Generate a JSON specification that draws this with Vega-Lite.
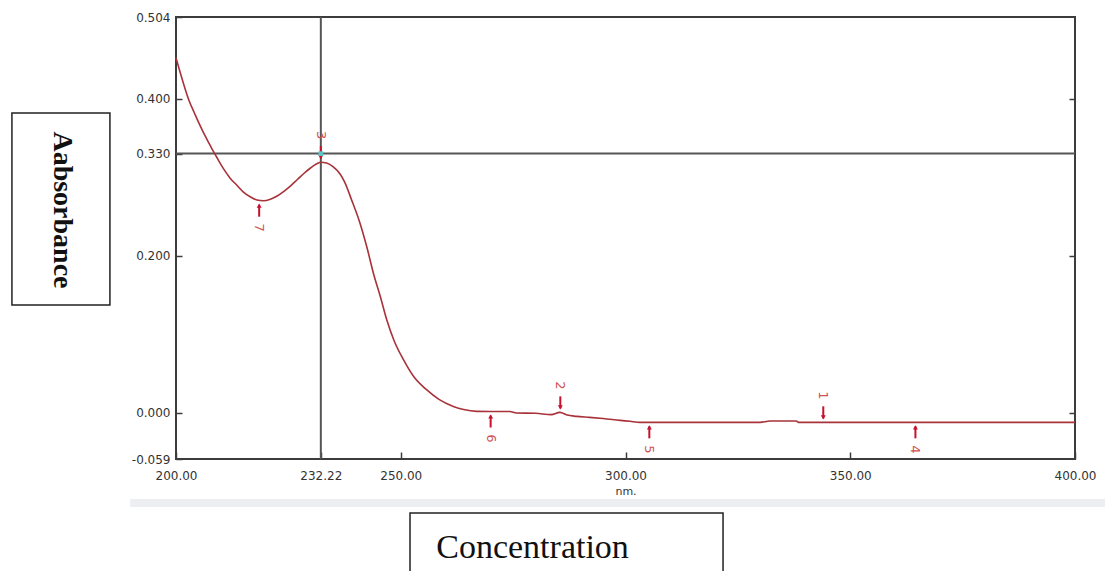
{
  "$schema": "https://vega.github.io/schema/vega-lite/v6.json",
  "width": 899,
  "height": 442,
  "autosize": "none",
  "padding": {"left": 176, "top": 17, "right": 30, "bottom": 112},
  "background": "white",
  "config": {
    "view": {"stroke": "#3c3c3c", "strokeWidth": 2},
    "axis": {
      "labelFont": "DejaVu Sans",
      "labelFontSize": 12,
      "labelColor": "#333333",
      "grid": false,
      "domain": false,
      "tickColor": "#3c3c3c",
      "tickWidth": 1.5
    }
  },
  "datasets": {
    "spectrum": [
      {"wl": 200.0, "abs": 0.452}, {"wl": 201.0, "abs": 0.432}, {"wl": 202.0, "abs": 0.413},
      {"wl": 203.0, "abs": 0.396}, {"wl": 204.0, "abs": 0.383}, {"wl": 205.0, "abs": 0.370},
      {"wl": 206.0, "abs": 0.358}, {"wl": 207.0, "abs": 0.347}, {"wl": 208.0, "abs": 0.336},
      {"wl": 209.0, "abs": 0.326}, {"wl": 210.0, "abs": 0.316}, {"wl": 211.0, "abs": 0.307},
      {"wl": 212.0, "abs": 0.299}, {"wl": 213.5, "abs": 0.290}, {"wl": 215.0, "abs": 0.281},
      {"wl": 216.5, "abs": 0.275}, {"wl": 218.0, "abs": 0.271}, {"wl": 219.5, "abs": 0.270},
      {"wl": 221.0, "abs": 0.272}, {"wl": 222.5, "abs": 0.276}, {"wl": 224.0, "abs": 0.282},
      {"wl": 225.5, "abs": 0.289}, {"wl": 227.0, "abs": 0.297}, {"wl": 228.5, "abs": 0.305},
      {"wl": 230.0, "abs": 0.312}, {"wl": 231.0, "abs": 0.316}, {"wl": 232.2, "abs": 0.319},
      {"wl": 233.5, "abs": 0.318}, {"wl": 235.0, "abs": 0.313}, {"wl": 236.5, "abs": 0.304},
      {"wl": 237.5, "abs": 0.294}, {"wl": 239.0, "abs": 0.272}, {"wl": 240.9, "abs": 0.242},
      {"wl": 242.5, "abs": 0.210}, {"wl": 243.9, "abs": 0.178}, {"wl": 245.5, "abs": 0.147},
      {"wl": 246.9, "abs": 0.118}, {"wl": 248.5, "abs": 0.092}, {"wl": 250.6, "abs": 0.0675},
      {"wl": 253.0, "abs": 0.045}, {"wl": 255.8, "abs": 0.029}, {"wl": 258.5, "abs": 0.017},
      {"wl": 261.7, "abs": 0.008}, {"wl": 264.0, "abs": 0.004}, {"wl": 266.9, "abs": 0.0017},
      {"wl": 270.0, "abs": 0.0015}, {"wl": 274.3, "abs": 0.0015}, {"wl": 275.7, "abs": -0.0004},
      {"wl": 280.0, "abs": -0.0008}, {"wl": 283.5, "abs": -0.0025}, {"wl": 285.4, "abs": 0.0004},
      {"wl": 287.0, "abs": -0.003}, {"wl": 289.1, "abs": -0.0047}, {"wl": 292.0, "abs": -0.006},
      {"wl": 295.0, "abs": -0.0075}, {"wl": 298.8, "abs": -0.0098}, {"wl": 301.0, "abs": -0.011},
      {"wl": 303.2, "abs": -0.0123}, {"wl": 310.0, "abs": -0.0123}, {"wl": 320.0, "abs": -0.0123},
      {"wl": 330.0, "abs": -0.0123}, {"wl": 332.1, "abs": -0.0106}, {"wl": 338.0, "abs": -0.0106},
      {"wl": 338.5, "abs": -0.0123}, {"wl": 344.0, "abs": -0.0123}, {"wl": 360.0, "abs": -0.0123},
      {"wl": 380.0, "abs": -0.0123}, {"wl": 400.0, "abs": -0.0123}
    ],
    "picks": [
      {"n": "1", "wl": 344.0, "abs": -0.0123, "kind": "peak"},
      {"n": "2", "wl": 285.5, "abs": 0.0004, "kind": "peak"},
      {"n": "3", "wl": 232.22, "abs": 0.319, "kind": "peak"},
      {"n": "4", "wl": 364.5, "abs": -0.0123, "kind": "valley"},
      {"n": "5", "wl": 305.3, "abs": -0.0123, "kind": "valley"},
      {"n": "6", "wl": 270.0, "abs": 0.0015, "kind": "valley"},
      {"n": "7", "wl": 218.5, "abs": 0.270, "kind": "valley"}
    ]
  },
  "layer": [
    {
      "layer": [
        {
          "data": {"values": [{}]},
          "mark": {"type": "rect", "color": "#eceef1", "clip": false},
          "encoding": {
            "x": {"datum": 189.8, "type": "quantitative"},
            "x2": {"datum": 406.7},
            "y": {"datum": -0.1099, "type": "quantitative"},
            "y2": {"datum": -0.1201}
          }
        },
        {
          "data": {"values": [{}]},
          "mark": {"type": "rect", "fill": "white", "stroke": "#222222", "strokeWidth": 1.5, "clip": false},
          "encoding": {
            "x": {"datum": 163.5, "type": "quantitative"},
            "x2": {"datum": 185.3},
            "y": {"datum": 0.3817, "type": "quantitative"},
            "y2": {"datum": 0.1372}
          }
        },
        {
          "data": {"values": [{"label": "Aabsorbance"}]},
          "mark": {"type": "text", "angle": 90, "align": "center", "baseline": "middle", "font": "Liberation Serif", "fontWeight": "bold", "fontSize": 28, "color": "#111111", "clip": false},
          "encoding": {
            "x": {"datum": 174.6, "type": "quantitative"},
            "y": {"datum": 0.2582, "type": "quantitative"},
            "text": {"field": "label"}
          }
        },
        {
          "data": {"values": [{}]},
          "mark": {"type": "rect", "fill": "white", "stroke": "#222222", "strokeWidth": 1.5, "clip": false},
          "encoding": {
            "x": {"datum": 252.06, "type": "quantitative"},
            "x2": {"datum": 321.7},
            "y": {"datum": -0.1278, "type": "quantitative"},
            "y2": {"datum": -0.215}
          }
        },
        {
          "data": {"values": [{"label": "Concentration"}]},
          "mark": {"type": "text", "align": "left", "baseline": "alphabetic", "font": "Liberation Serif", "fontSize": 34, "color": "#111111", "clip": false},
          "encoding": {
            "x": {"datum": 257.9, "type": "quantitative"},
            "y": {"datum": -0.1851, "type": "quantitative"},
            "text": {"field": "label"}
          }
        },
        {
          "data": {"values": [{}]},
          "mark": {"type": "rule", "color": "#555555", "strokeWidth": 2},
          "encoding": {"y": {"datum": 0.33, "type": "quantitative"}}
        },
        {
          "data": {"values": [{}]},
          "mark": {"type": "rule", "color": "#555555", "strokeWidth": 2},
          "encoding": {"x": {"datum": 232.22, "type": "quantitative"}}
        },
        {
          "data": {"name": "spectrum"},
          "mark": {"type": "line", "color": "#a8323a", "strokeWidth": 1.6, "interpolate": "monotone"},
          "encoding": {
            "x": {
              "field": "wl", "type": "quantitative",
              "scale": {"domain": [200, 400], "nice": false, "zero": false},
              "axis": {
                "values": [200, 232.22, 250, 300, 350, 400],
                "format": ".2f",
                "tickSize": -7,
                "labelPadding": 18,
                "labelOverlap": false,
                "labelFlush": false,
                "title": "nm.",
                "titleFont": "DejaVu Sans",
                "titleFontSize": 11,
                "titleFontWeight": "normal",
                "titleColor": "#333333",
                "titlePadding": 4
              }
            },
            "y": {
              "field": "abs", "type": "quantitative",
              "scale": {"domain": [-0.059, 0.504], "nice": false, "zero": false},
              "axis": {
                "values": [-0.059, 0, 0.2, 0.33, 0.4, 0.504],
                "labelExpr": "datum.value < 0 ? '-' + format(-datum.value, '.3f') : format(datum.value, '.3f')",
                "tickSize": -6,
                "labelPadding": 12,
                "title": null
              }
            }
          }
        },
        {
          "data": {"name": "picks"},
          "transform": [{"filter": "datum.kind == 'peak'"}],
          "layer": [
            {
              "mark": {"type": "rule", "color": "#c8102e", "strokeWidth": 2, "yOffset": -4, "y2Offset": -16},
              "encoding": {
                "x": {"field": "wl", "type": "quantitative"},
                "y": {"field": "abs", "type": "quantitative"},
                "y2": {"field": "abs"}
              }
            },
            {
              "mark": {"type": "point", "shape": "triangle-down", "filled": true, "size": 24, "color": "#c8102e", "opacity": 1, "yOffset": -5},
              "encoding": {
                "x": {"field": "wl", "type": "quantitative"},
                "y": {"field": "abs", "type": "quantitative"}
              }
            },
            {
              "mark": {"type": "text", "angle": 90, "align": "center", "baseline": "middle", "fontSize": 13, "font": "DejaVu Sans", "color": "#d05050", "yOffset": -27},
              "encoding": {
                "x": {"field": "wl", "type": "quantitative"},
                "y": {"field": "abs", "type": "quantitative"},
                "text": {"field": "n"}
              }
            }
          ]
        },
        {
          "data": {"name": "picks"},
          "transform": [{"filter": "datum.kind == 'valley'"}],
          "layer": [
            {
              "mark": {"type": "rule", "color": "#c8102e", "strokeWidth": 2, "yOffset": 4, "y2Offset": 16},
              "encoding": {
                "x": {"field": "wl", "type": "quantitative"},
                "y": {"field": "abs", "type": "quantitative"},
                "y2": {"field": "abs"}
              }
            },
            {
              "mark": {"type": "point", "shape": "triangle-up", "filled": true, "size": 24, "color": "#c8102e", "opacity": 1, "yOffset": 5},
              "encoding": {
                "x": {"field": "wl", "type": "quantitative"},
                "y": {"field": "abs", "type": "quantitative"}
              }
            },
            {
              "mark": {"type": "text", "angle": 90, "align": "center", "baseline": "middle", "fontSize": 13, "font": "DejaVu Sans", "color": "#d05050", "yOffset": 27},
              "encoding": {
                "x": {"field": "wl", "type": "quantitative"},
                "y": {"field": "abs", "type": "quantitative"},
                "text": {"field": "n"}
              }
            }
          ]
        },
        {
          "data": {"values": [{}]},
          "mark": {"type": "point", "shape": "square", "filled": true, "size": 22, "color": "#5cc6c6", "opacity": 1},
          "encoding": {
            "x": {"datum": 232.22, "type": "quantitative"},
            "y": {"datum": 0.33, "type": "quantitative"}
          }
        }
      ]
    },
    {
      "data": {"values": [{}]},
      "mark": {"type": "rule", "opacity": 0},
      "encoding": {
        "y": {
          "datum": 0, "type": "quantitative",
          "scale": {"domain": [-0.059, 0.504], "nice": false, "zero": false},
          "axis": {"orient": "right", "values": [0, 0.2, 0.4], "labels": false, "tickSize": -6, "title": null}
        }
      }
    }
  ],
  "resolve": {"scale": {"y": "independent"}}
}
